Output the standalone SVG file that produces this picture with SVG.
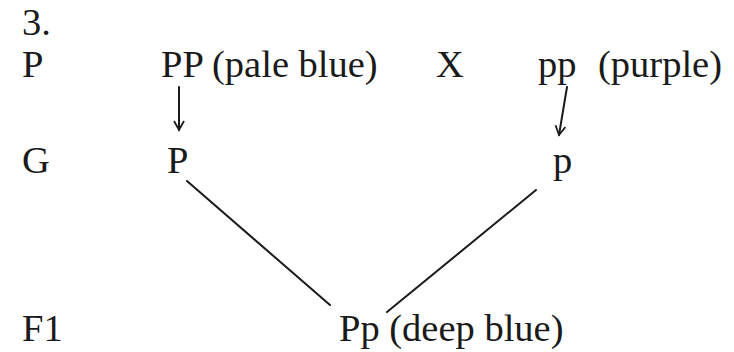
<svg xmlns="http://www.w3.org/2000/svg" width="734" height="352" viewBox="0 0 734 352">
<defs>
<style>
text { font-family: "Liberation Serif", "Times New Roman", serif; font-size: 38.5px; fill: #1a1a1a; }
.c { stroke: #1a1a1a; stroke-width: 2; fill: none; stroke-linecap: round; }
</style>
<marker id="ah" viewBox="0 0 12 12" refX="10" refY="6" markerWidth="12" markerHeight="12" markerUnits="userSpaceOnUse" orient="auto">
<path d="M1,1 L10,6 L1,11" fill="none" stroke="#1a1a1a" stroke-width="1.8"/>
</marker>
</defs>
<rect width="734" height="352" fill="#ffffff"/>
<g id="labels">
<text x="22" y="35">3.</text>
<text x="22" y="77">P</text>
<text x="22" y="173">G</text>
<text x="22" y="341">F1</text>
</g>
<g id="parent1"><text x="161" y="77">PP (pale blue)</text></g>
<g id="cross"><text x="436" y="77">X</text></g>
<g id="parent2"><text x="538" y="77">pp</text><text x="598" y="77">(purple)</text></g>
<g id="gamete1"><text x="167" y="173">P</text></g>
<g id="gamete2"><text x="553" y="173">p</text></g>
<g id="f1"><text x="339" y="341">Pp (deep blue)</text></g>
<g id="connectors">
<line class="c" x1="179" y1="87" x2="179" y2="130" marker-end="url(#ah)"/>
<line class="c" x1="567" y1="87" x2="559" y2="135" marker-end="url(#ah)"/>
<line class="c" x1="187" y1="181" x2="330" y2="305"/>
<line class="c" x1="536" y1="190" x2="387" y2="312"/>
</g>
</svg>
